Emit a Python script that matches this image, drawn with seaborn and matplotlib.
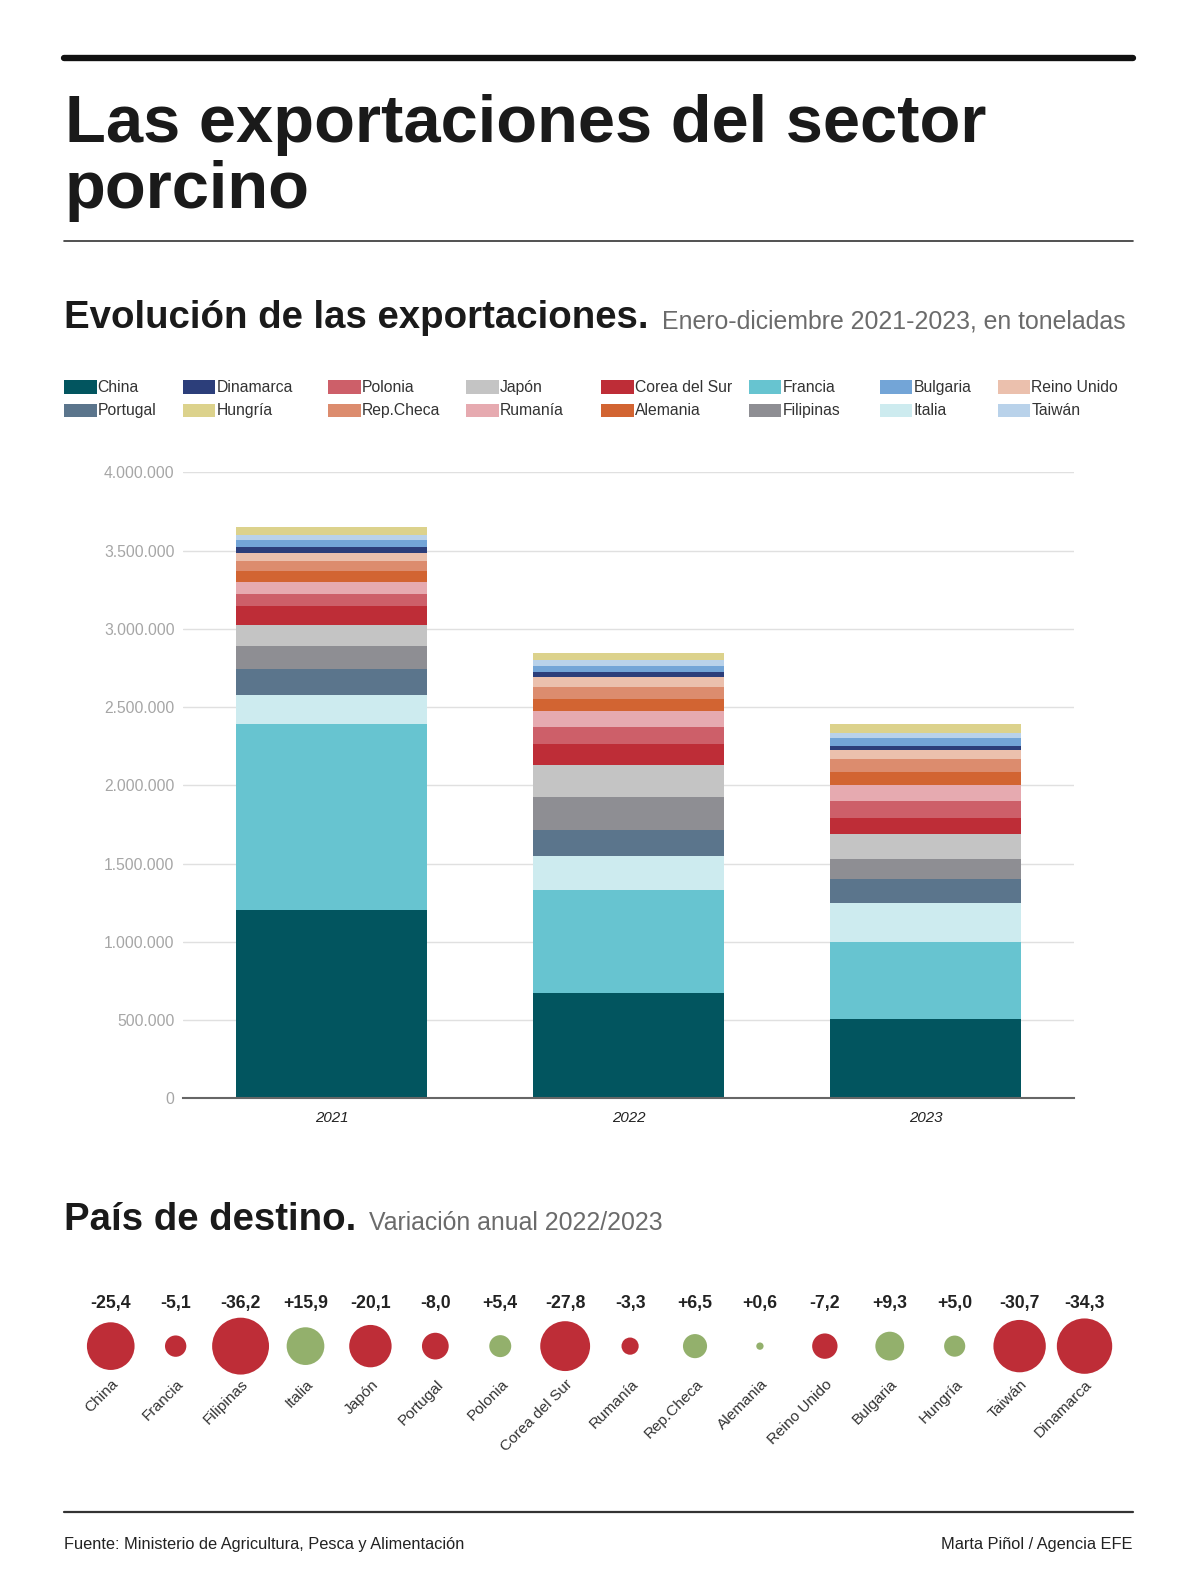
import matplotlib
matplotlib.use("Agg")
import matplotlib.pyplot as plt
from matplotlib.lines import Line2D
from matplotlib.patches import Rectangle
from matplotlib.ticker import FuncFormatter
import pandas as pd
import seaborn as sns

# datos (toneladas), en orden de apilado de abajo a arriba
years = ["2021", "2022", "2023"]
countries = ["China", "Francia", "Italia", "Portugal", "Filipinas", "Japón",
             "Corea del Sur", "Polonia", "Rumanía", "Alemania", "Rep.Checa",
             "Reino Unido", "Dinamarca", "Bulgaria", "Taiwán", "Hungría"]
t2021 = [1205000, 1184000, 190000, 163000, 147000, 137000, 120000, 76000,
         78000, 73000, 59000, 51000, 42000, 44000, 32000, 50000]
t2022 = [672000, 662000, 217000, 166000, 207000, 205000, 137000, 105000,
         106000, 76000, 74000, 63000, 36000, 38000, 36000, 48000]
t2023 = [509000, 487000, 251000, 155000, 126000, 161000, 102000, 110000,
         100000, 85000, 80000, 60000, 25000, 53000, 28000, 57000]
colors = {
    "China": "#02555f", "Francia": "#67c4d0", "Italia": "#cdebef",
    "Portugal": "#5b758c", "Filipinas": "#8e8e93", "Japón": "#c4c4c4",
    "Corea del Sur": "#be2d37", "Polonia": "#cd5f69", "Rumanía": "#e6aab0",
    "Alemania": "#d26432", "Rep.Checa": "#dc8c6e", "Reino Unido": "#ebc0ad",
    "Dinamarca": "#2c3e7a", "Bulgaria": "#73a5d7", "Taiwán": "#b9d2ea",
    "Hungría": "#dcd28c",
}
legend_rows = [["China", "Dinamarca", "Polonia", "Japón", "Corea del Sur", "Francia", "Bulgaria", "Reino Unido"],
               ["Portugal", "Hungría", "Rep.Checa", "Rumanía", "Alemania", "Filipinas", "Italia", "Taiwán"]]

# variación anual 2022/2023 (%)
dest = ["China", "Francia", "Filipinas", "Italia", "Japón", "Portugal", "Polonia",
        "Corea del Sur", "Rumanía", "Rep.Checa", "Alemania", "Reino Unido",
        "Bulgaria", "Hungría", "Taiwán", "Dinamarca"]
variacion = [-25.4, -5.1, -36.2, 15.9, -20.1, -8.0, 5.4, -27.8, -3.3, 6.5, 0.6,
             -7.2, 9.3, 5.0, -30.7, -34.3]

sns.set_theme(style="white")
plt.rcParams['font.family'] = ['Liberation Sans', 'DejaVu Sans']

W, H = 1200, 1593
S = 1593 / 1568  # medidas tomadas sobre la vista reducida
fig = plt.figure(figsize=(W / 100, H / 100), dpi=100)
fig.patch.set_facecolor("white")


def fx(px):
    return px * S / W


def fy(py):
    return 1 - py * S / H


def fs(pt):
    return pt * S


# cabecera
fig.add_artist(Line2D([fx(63), fx(1115)], [fy(57), fy(57)], color="#111111", lw=fs(4.5), transform=fig.transFigure))
fig.text(fx(64), fy(140), "Las exportaciones del sector", fontsize=fs(47.4), fontweight="bold", color="#1a1a1a", va="baseline")
fig.text(fx(64), fy(205), "porcino", fontsize=fs(47.4), fontweight="bold", color="#1a1a1a", va="baseline")
fig.add_artist(Line2D([fx(63), fx(1115)], [fy(237), fy(237)], color="#333333", lw=1.2, transform=fig.transFigure))

renderer = fig.canvas.get_renderer()


def section(y, bold, light):
    t = fig.text(fx(63), fy(y), bold, fontsize=fs(27.2), fontweight="bold", color="#1a1a1a", va="baseline")
    x1 = t.get_window_extent(renderer).x1
    fig.text(x1 / W + fx(13), fy(y), light, fontsize=fs(17.6), color="#6b6b6b", va="baseline")


section(323, "Evolución de las exportaciones.", "Enero-diciembre 2021-2023, en toneladas")
section(1211, "País de destino.", "Variación anual 2022/2023")

# leyenda
col_x = [63, 180, 323, 459, 592, 737, 866, 982]
for r, (row, ly) in enumerate(zip(legend_rows, [381, 404])):
    for name, lx in zip(row, col_x):
        fig.add_artist(Rectangle((fx(lx), fy(ly + 6.5)), fx(32), fy(ly - 6.5) - fy(ly + 6.5),
                                 transform=fig.transFigure, facecolor=colors[name], edgecolor="none"))
        fig.text(fx(lx + 33), fy(ly), name, fontsize=fs(11.2), color="#333333", va="center")

# barras apiladas
ax = fig.add_axes([fx(180), fy(1081), fx(1057) - fx(180), fy(465) - fy(1081)])
df = pd.DataFrame({c: [a, b, d] for c, a, b, d in zip(countries, t2021, t2022, t2023)}, index=years)
cum = df.cumsum(axis=1)
for c in reversed(countries):
    sns.barplot(x=years, y=cum[c].values, color=colors[c], saturation=1,
                width=0.645, linewidth=0, errorbar=None, ax=ax)
ax.set_ylim(0, 4000000)
ax.set_xlim(-0.5, 2.5)
ax.set_yticks(range(0, 4000001, 500000))
ax.yaxis.set_major_formatter(FuncFormatter(lambda v, p: f"{int(v):,}".replace(",", ".")))
ax.grid(axis="y", color="#e0e0e0", lw=1)
ax.set_axisbelow(True)
for s in ["top", "right", "left"]:
    ax.spines[s].set_visible(False)
ax.spines["bottom"].set_color("#666666")
ax.spines["bottom"].set_linewidth(1.5)
ax.tick_params(axis="y", length=0, pad=6, labelsize=fs(11.2), labelcolor="#a6a6a6")
ax.tick_params(axis="x", length=0, pad=9, labelsize=fs(10.7), labelcolor="#222222")
for lab in ax.get_xticklabels():
    lab.set_fontstyle("italic")
ax.set_xlabel("")
ax.set_ylabel("")

# burbujas
axb = fig.add_axes([0, fy(1400), 1, fy(1250) - fy(1400)])
bub = pd.DataFrame({"pais": dest, "var": variacion})
bub["pos"] = range(len(dest))
bub["y"] = 0.0
bub["abs"] = bub["var"].abs()
bub["signo"] = ["neg" if v < 0 else "pos" for v in variacion]
sns.scatterplot(data=bub, x="pos", y="y", size="abs", sizes=(0, 1678), size_norm=(0, 36.2),
                hue="signo", palette={"neg": "#be2d37", "pos": "#93b06c"},
                linewidth=0, legend=False, ax=axb)
axb.set_xlim(-109 / 63.9, (W / S - 109) / 63.9)
axb.set_ylim(-1, 1)
axb.axis("off")
for i, (p, v) in enumerate(zip(dest, variacion)):
    axb.annotate(f"{v:+.1f}".replace(".", ","), (i, 0), xytext=(0, fs(30)), textcoords="offset points",
                 ha="center", va="center", fontsize=fs(12.5), fontweight="bold", color="#222222")
    axb.annotate(p, (i, 0), xytext=(fs(0.5), fs(-22)), textcoords="offset points", ha="right", va="top",
                 rotation=45, rotation_mode="anchor", fontsize=fs(10.9), color="#333333")

# pie
fig.add_artist(Line2D([fx(63), fx(1115)], [fy(1488), fy(1488)], color="#333333", lw=1.6, transform=fig.transFigure))
fig.text(fx(63), fy(1525), "Fuente: Ministerio de Agricultura, Pesca y Alimentación", fontsize=fs(11.65),
         color="#222222", va="baseline")
fig.text(fx(1115), fy(1525), "Marta Piñol / Agencia EFE", fontsize=fs(11.65),
         color="#222222", va="baseline", ha="right")

fig.savefig("out.png", dpi=100)
